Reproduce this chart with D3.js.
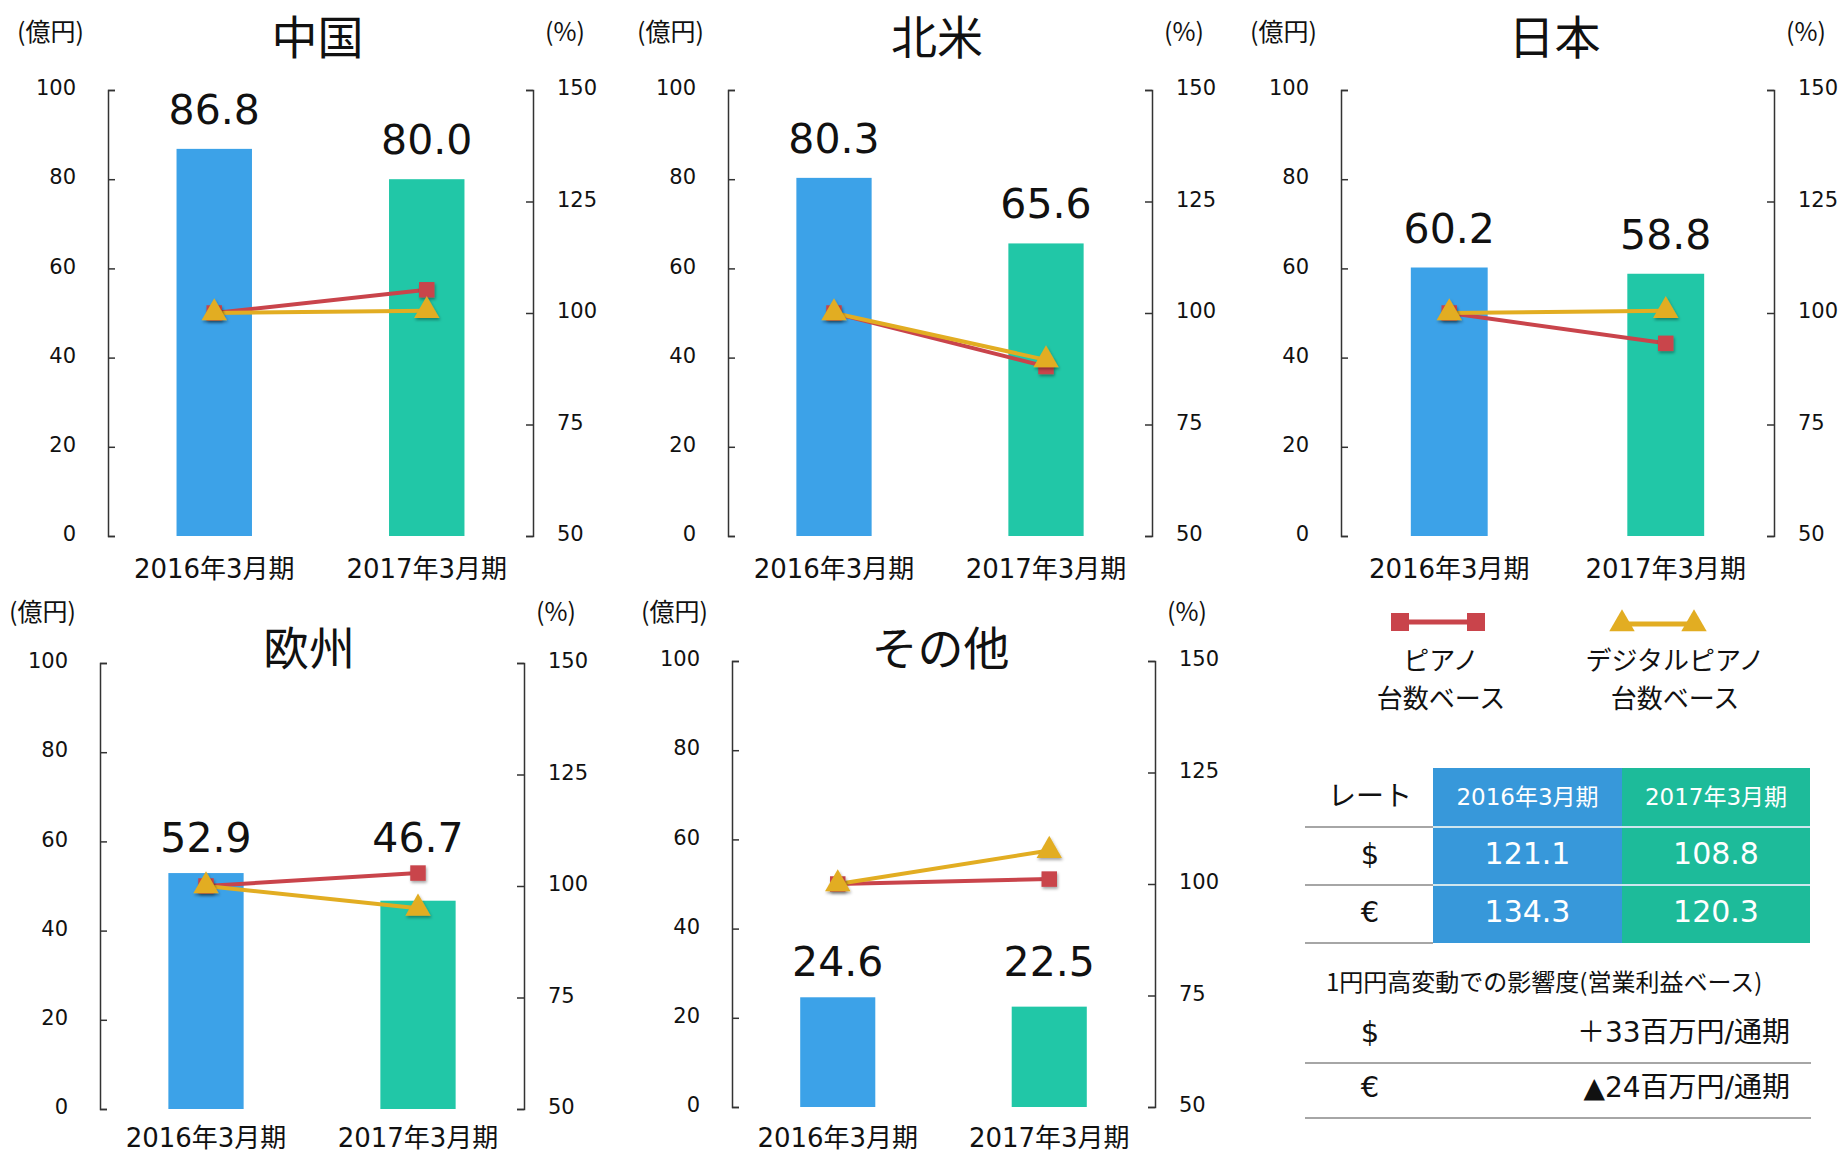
<!DOCTYPE html>
<html>
<head>
<meta charset="utf-8">
<script src="https://cdn.jsdelivr.net/npm/d3@7"></script>
<style>
  body { margin: 0; background: #fff; }
  text { font-family: "DejaVu Sans", "Noto Sans CJK JP", sans-serif; fill: #111; }
  .jp { font-family: "Noto Sans CJK JP", sans-serif; }
</style>
</head>
<body>
<svg id="chart" width="1841" height="1152"></svg>
<script>
// ---- data ----
const regions = ["中国", "北米", "日本", "欧州", "その他"];
const periods = ["2016年3月期", "2017年3月期"];
const sales = [[86.8, 80.0], [80.3, 65.6], [60.2, 58.8], [52.9, 46.7], [24.6, 22.5]];     // 億円
const pianoIndex = [[100, 105.2], [100, 88.0], [100, 93.2], [100, 102.9], [100, 101.1]];   // %
const digitalIndex = [[100, 100.5], [100, 89.5], [100, 100.5], [100, 95.0], [100, 107.5]]; // %
const leftTicks = [0, 20, 40, 60, 80, 100];
const rightTicks = [50, 75, 100, 125, 150];
const seriesNames = [["ピアノ", "台数ベース"], ["デジタルピアノ", "台数ベース"]];
const rateHeader = "レート";
const currencies = ["$", "€"];
const rates = [[121.1, 108.8], [134.3, 120.3]];
const impactTitle = "1円円高変動での影響度(営業利益ベース)";
const impacts = ["＋33百万円/通期", "▲24百万円/通期"];

const col = {blue: "#3ca2e8", green: "#21c7a7", red: "#c9444b", gold: "#e2ad22",
             tblBlue: "#3798da", tblGreen: "#1dbb9a", axis: "#333", rule: "#a6a6a6"};

// plot frames: axis x positions, value range y positions
const frames = [
  {x0: 108, x1: 533, y0: 90, y1: 536, titleY: 54, unitY: 41, catY: 578},
  {x0: 728, x1: 1152, y0: 90, y1: 536, titleY: 54, unitY: 41, catY: 578},
  {x0: 1341, x1: 1774, y0: 90, y1: 536, titleY: 54, unitY: 41, catY: 578},
  {x0: 100, x1: 524, y0: 663, y1: 1109, titleY: 665, unitY: 621, catY: 1147, align: true},
  {x0: 732, x1: 1155, y0: 661, y1: 1107, titleY: 665, unitY: 621, catY: 1147, align: true}
];

const svg = d3.select("#chart");
const defs = svg.append("defs");
defs.append("filter").attr("id", "shadow").attr("x", "-50%").attr("y", "-50%")
  .attr("width", "200%").attr("height", "200%")
  .append("feDropShadow").attr("dx", 1).attr("dy", 2).attr("stdDeviation", 1.5)
  .attr("flood-color", "#000").attr("flood-opacity", 0.35);

const barColors = [col.blue, col.green];
const sq = d3.symbol(d3.symbolSquare, 240);
const tri = d3.symbol(d3.symbolTriangle, 280);

function styleAxis(g) {
  g.select(".domain").attr("stroke", col.axis).attr("stroke-width", 1.5);
  g.selectAll(".tick line").attr("stroke", col.axis).attr("stroke-width", 1.5);
  g.selectAll(".tick text").attr("font-size", 21).attr("fill", "#111")
    .attr("font-family", null).attr("dy", "0.22em");
  g.attr("font-family", null).attr("font-size", null);
}

frames.forEach((f, i) => {
  const g = svg.append("g");
  const x = d3.scaleBand().domain(periods).range([f.x0, f.x1])
    .paddingInner(0.645).paddingOuter(0.3225);
  const y = d3.scaleLinear().domain([0, 100]).range([f.y1, f.y0]);
  const y2 = d3.scaleLinear().domain([50, 150]).range([f.y1, f.y0]);
  const cx = p => x(p) + x.bandwidth() / 2;

  // bars
  g.selectAll("rect").data(sales[i]).join("rect")
    .attr("x", (d, j) => x(periods[j]))
    .attr("width", x.bandwidth())
    .attr("y", d => y(d))
    .attr("height", d => f.y1 - y(d))
    .attr("fill", (d, j) => barColors[j]);

  // axes
  g.append("g").attr("transform", `translate(${f.x0},0)`)
    .call(d3.axisLeft(y).tickValues(leftTicks).tickSizeInner(-7).tickSizeOuter(-7).tickPadding(32))
    .call(styleAxis);
  g.append("g").attr("transform", `translate(${f.x1},0)`)
    .call(d3.axisRight(y2).tickValues(rightTicks).tickSizeInner(-7).tickSizeOuter(-7).tickPadding(24))
    .call(styleAxis);

  // value labels
  const top = d3.max(sales[i]);
  g.selectAll(".val").data(sales[i]).join("text").attr("class", "val")
    .attr("x", (d, j) => cx(periods[j]))
    .attr("y", d => (f.align ? y(top) - 21 : y(d) - 25))
    .attr("text-anchor", "middle").attr("font-size", 41)
    .text(d => d.toFixed(1));

  // category labels
  g.selectAll(".cat").data(periods).join("text").attr("class", "cat")
    .attr("x", d => cx(d)).attr("y", f.catY)
    .attr("text-anchor", "middle").attr("font-size", 26).text(d => d);

  // index lines
  const line = d3.line().x((d, j) => cx(periods[j])).y(d => y2(d));
  const series = [[pianoIndex[i], col.red, sq], [digitalIndex[i], col.gold, tri]];
  series.forEach(([vals, c]) => {
    g.append("path").attr("d", line(vals)).attr("fill", "none")
      .attr("stroke", c).attr("stroke-width", 4);
  });
  series.forEach(([vals, c, sym]) => {
    g.selectAll(null).data(vals).join("path")
      .attr("transform", (d, j) => `translate(${cx(periods[j])},${y2(d)})`)
      .attr("d", sym).attr("fill", c).attr("filter", "url(#shadow)");
  });

  // titles and units
  g.append("text").attr("class", "jp").attr("x", (f.x0 + f.x1) / 2 - 3).attr("y", f.titleY)
    .attr("text-anchor", "middle").attr("font-size", 46).text(regions[i]);
  g.append("text").attr("class", "jp").attr("x", f.x0 - 24).attr("y", f.unitY)
    .attr("text-anchor", "end").attr("font-size", 25).text("(億円)");
  g.append("text").attr("class", "jp").attr("x", f.x1 + 12).attr("y", f.unitY)
    .attr("font-size", 25).text("(%)");
});

// ---- legend ----
const legend = [
  {a: 1400, b: 1476, y: 622, tx: 1441, c: col.red, sym: d3.symbol(d3.symbolSquare, 324)},
  {a: 1622, b: 1694, y: 624, tx: 1675, c: col.gold, sym: d3.symbol(d3.symbolTriangle, 280)}
];
legend.forEach((L, k) => {
  const g = svg.append("g");
  g.append("line").attr("x1", L.a).attr("x2", L.b).attr("y1", L.y).attr("y2", L.y)
    .attr("stroke", L.c).attr("stroke-width", 5);
  g.selectAll(null).data([L.a, L.b]).join("path")
    .attr("transform", d => `translate(${d},${L.y})`).attr("d", L.sym).attr("fill", L.c);
  g.selectAll(null).data(seriesNames[k]).join("text").attr("class", "jp")
    .attr("x", L.tx).attr("y", (d, j) => 670 + j * 38)
    .attr("text-anchor", "middle").attr("font-size", 26).text(d => d);
});

// ---- rate table ----
const tx = [1305, 1433, 1622, 1810];
const ty = [768, 827, 885, 943];
const cellFill = [col.tblBlue, col.tblGreen];
const t = svg.append("g");
periods.forEach((p, c) => {
  t.append("rect").attr("x", tx[c + 1]).attr("y", ty[0])
    .attr("width", tx[c + 2] - tx[c + 1]).attr("height", ty[3] - ty[0]).attr("fill", cellFill[c]);
  t.append("text").attr("x", (tx[c + 1] + tx[c + 2]) / 2).attr("y", 805)
    .attr("text-anchor", "middle").attr("font-size", 23).style("fill", "#fff").text(p);
});
t.append("text").attr("class", "jp").attr("x", 1370).attr("y", 806)
  .attr("text-anchor", "middle").attr("font-size", 28).text(rateHeader);
currencies.forEach((cur, r) => {
  const base = ty[r + 1] + 37;
  t.append("text").attr("x", 1370).attr("y", base).attr("text-anchor", "middle")
    .attr("font-size", 29).text(cur);
  rates[r].forEach((v, c) => {
    t.append("text").attr("x", (tx[c + 1] + tx[c + 2]) / 2).attr("y", base)
      .attr("text-anchor", "middle").attr("font-size", 30).style("fill", "#fff").text(v.toFixed(1));
  });
});
[1, 2, 3].forEach(k => {
  t.append("line").attr("x1", tx[0]).attr("x2", tx[1]).attr("y1", ty[k]).attr("y2", ty[k])
    .attr("stroke", col.rule).attr("stroke-width", 2);
  if (k < 3) t.append("line").attr("x1", tx[1]).attr("x2", tx[3]).attr("y1", ty[k]).attr("y2", ty[k])
    .attr("stroke", "#cfe6ee").attr("stroke-width", 2);
});

// ---- yen sensitivity ----
t.append("text").attr("class", "jp").attr("x", 1326).attr("y", 991)
  .attr("font-size", 24).text(impactTitle);
currencies.forEach((cur, r) => {
  const base = 1042 + r * 55;
  t.append("text").attr("x", 1370).attr("y", base).attr("text-anchor", "middle")
    .attr("font-size", 29).text(cur);
  t.append("text").attr("x", 1790).attr("y", base).attr("text-anchor", "end")
    .attr("font-size", 28).text(impacts[r]);
  t.append("line").attr("x1", 1305).attr("x2", 1811).attr("y1", 1063 + r * 55).attr("y2", 1063 + r * 55)
    .attr("stroke", col.rule).attr("stroke-width", 2);
});
</script>
</body>
</html>
